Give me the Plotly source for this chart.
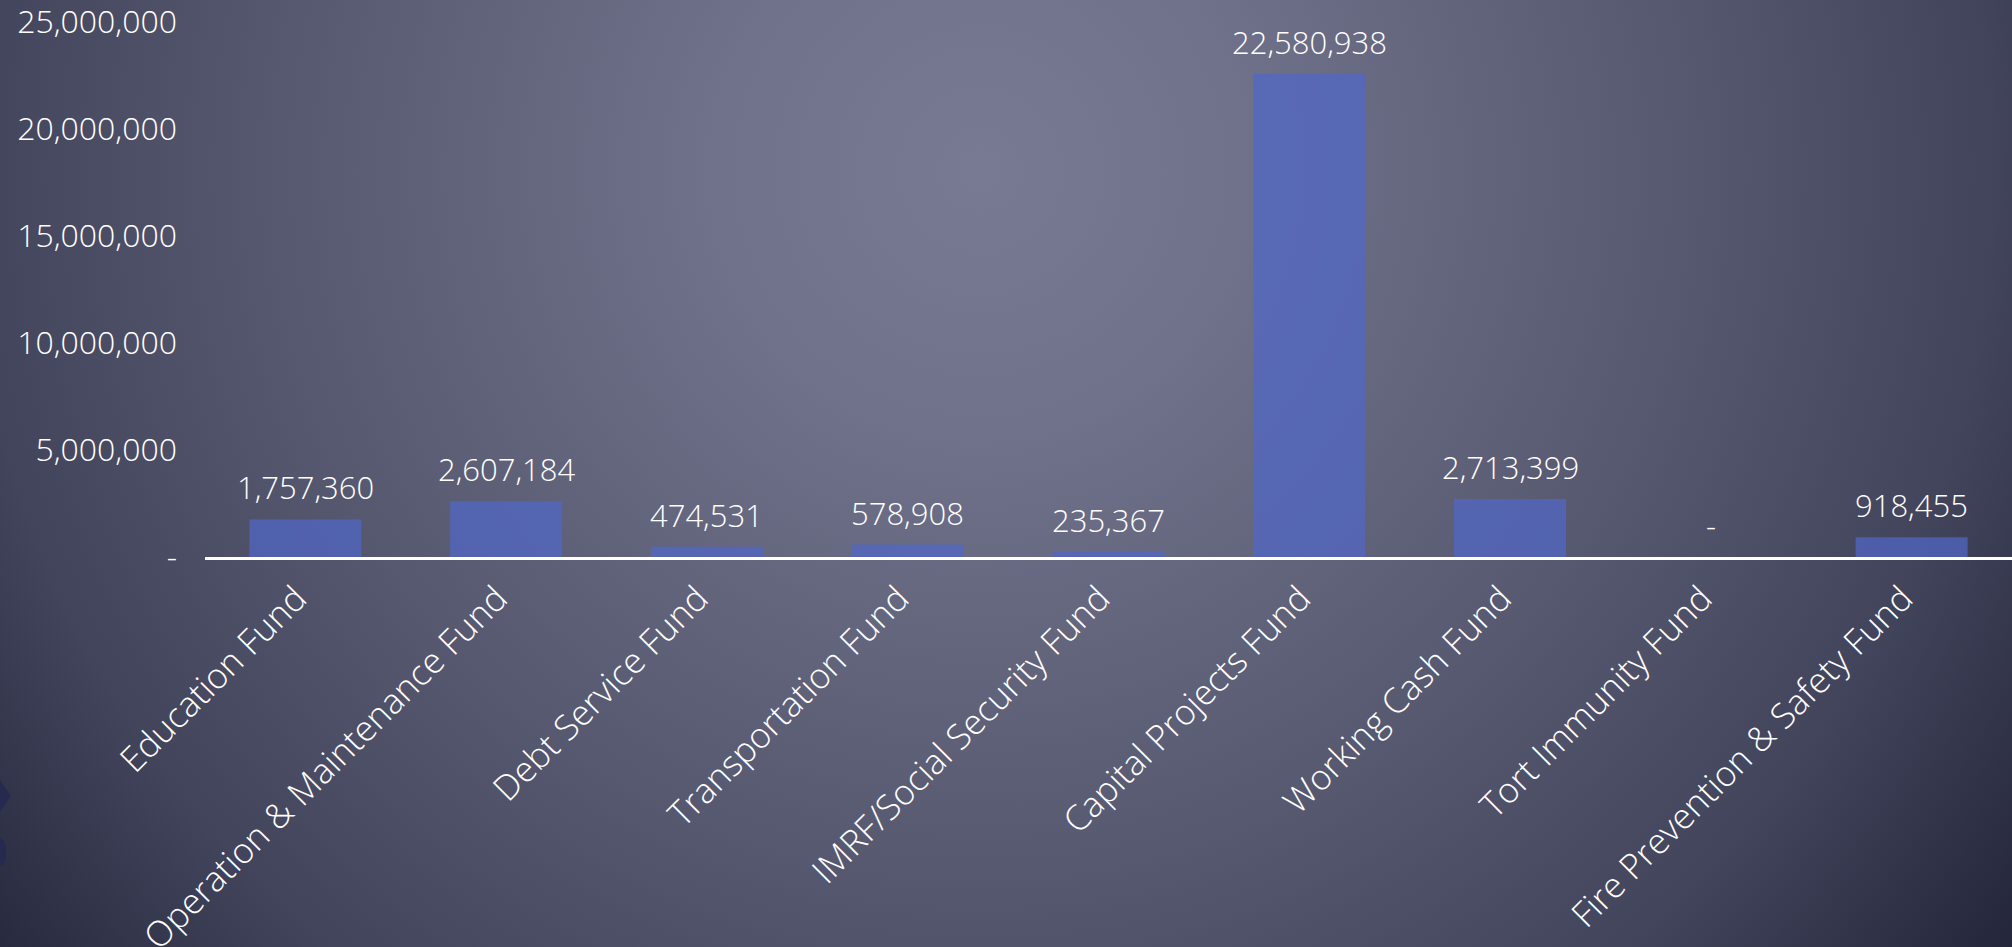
import base64
import plotly.graph_objects as go

categories = [
    "Education Fund",
    "Operation & Maintenance Fund",
    "Debt Service Fund",
    "Transportation Fund",
    "IMRF/Social Security Fund",
    "Capital Projects Fund",
    "Working Cash Fund",
    "Tort Immunity Fund",
    "Fire Prevention & Safety Fund",
]
values = [1757360, 2607184, 474531, 578908, 235367, 22580938, 2713399, 0, 918455]
ytick_vals = [0, 5000000, 10000000, 15000000, 20000000, 25000000]
ytick_text = ["-", "5,000,000", "10,000,000", "15,000,000", "20,000,000", "25,000,000"]

FONT = "Open Sans, DejaVu Sans, sans-serif"

# Slide background: radial gradient + small decoration on left edge (as SVG image)
svg = """<svg xmlns="http://www.w3.org/2000/svg" width="2012" height="947" viewBox="0 0 2012 947">
<defs>
<radialGradient id="g" gradientUnits="userSpaceOnUse" cx="980" cy="170" r="1300">
<stop offset="0" stop-color="#787a94"/>
<stop offset="0.2" stop-color="#70728b"/>
<stop offset="0.55" stop-color="#56586f"/>
<stop offset="0.78" stop-color="#42445b"/>
<stop offset="0.96" stop-color="#282a40"/>
<stop offset="1" stop-color="#23253a"/>
</radialGradient>
</defs>
<rect x="0" y="0" width="2012" height="947" fill="url(#g)"/>
<polygon points="0,780 11,796 0,812" fill="#262a4f"/>
<ellipse cx="0" cy="852" rx="6" ry="14" fill="#262a4f"/>
</svg>"""
svg_uri = "data:image/svg+xml;base64," + base64.b64encode(svg.encode("utf-8")).decode("ascii")

W, H = 2012, 947
ML, MR, MT, MB = 205, 0, 22, 390
PW, PH = W - ML - MR, H - MT - MB

fig = go.Figure(
    go.Bar(
        x=categories,
        y=values,
        marker=dict(color="rgba(80,102,200,0.72)", line=dict(width=0)),
        hoverinfo="skip",
    )
)

annotations = []
for c, v in zip(categories, values):
    annotations.append(
        dict(
            x=c,
            y=v,
            xref="x",
            yref="y",
            text=f"{v:,}" if v else "-",
            showarrow=False,
            yanchor="middle",
            xanchor="center",
            yshift=32,
            font=dict(family=FONT, size=31, color="white", weight=300),
        )
    )

fig.update_layout(
    width=W,
    height=H,
    margin=dict(l=ML, r=MR, t=MT, b=MB, pad=0),
    paper_bgcolor="#4a4c63",
    plot_bgcolor="rgba(0,0,0,0)",
    bargap=0.442,
    showlegend=False,
    font=dict(family=FONT, color="white", weight=300),
    annotations=annotations,
    images=[
        dict(
            source=svg_uri,
            xref="paper",
            yref="paper",
            x=-ML / PW,
            y=1 + MT / PH,
            sizex=W / PW,
            sizey=H / PH,
            xanchor="left",
            yanchor="top",
            sizing="stretch",
            layer="below",
        )
    ],
    xaxis=dict(
        type="category",
        tickangle=-45,
        tickfont=dict(family=FONT, size=35, color="white", weight=300),
        showline=True,
        linecolor="white",
        linewidth=3,
        ticks="",
        showgrid=False,
        zeroline=False,
        automargin=False,
        ticklabelshift=-9,
        ticklabelstandoff=4,
        ticklabeloverflow="allow",
    ),
    yaxis=dict(
        range=[0, 25000000],
        tickvals=ytick_vals,
        ticktext=ytick_text,
        tickfont=dict(family=FONT, size=32, color="white", weight=300),
        showgrid=False,
        zeroline=False,
        showline=False,
        ticks="",
        ticklabelstandoff=27,
        ticklabeloverflow="allow",
        automargin=False,
    ),
)

fig.write_html("out.html")
